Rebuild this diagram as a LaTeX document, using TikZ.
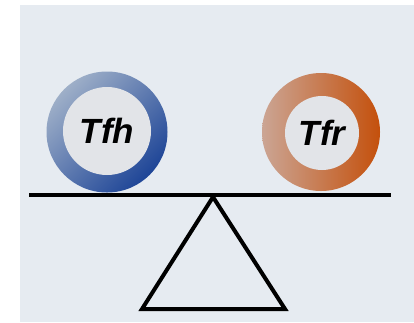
\documentclass[tikz,border=0pt]{standalone}
\usepackage{fontspec}
\setmainfont{Liberation Sans}
\begin{document}
\begin{tikzpicture}[x=1pt,y=-1pt,
  ring/.style={circle, inner sep=0pt, draw=none},
  core/.style={circle, inner sep=0pt, fill=innergrey, font=\fontsize{35}{35}\selectfont\bfseries\itshape},
  bar/.style={line width=3.6pt, black}]
\definecolor{panel}{HTML}{E6EBF1}
\definecolor{innergrey}{HTML}{E2E4E8}
\definecolor{blueL}{HTML}{9EAFC8}
\definecolor{blueD}{HTML}{1E4597}
\definecolor{orL}{HTML}{CBA594}
\definecolor{orD}{HTML}{C4500C}
\useasboundingbox (0,0) rectangle (414,322);
\fill[white] (0,0) rectangle (414,322);
\fill[panel] (20,5) rectangle (414,322);
% rings
\node[ring, minimum size=121pt, shading=axis, left color=blueL, right color=blueD, shading angle=45] (tfhring) at (107,132) {};
\node[core, minimum size=88pt] (tfh) at (107,131) {Tfh};
\node[ring, minimum size=118pt, shading=axis, left color=orL, right color=orD, shading angle=90] (tfrring) at (321,132) {};
\node[core, minimum size=74pt] (tfr) at (322,133) {Tfr};
% beam and fulcrum
\coordinate (bl) at (29,195);
\coordinate (br) at (391,195);
\coordinate (apex) at (213,197);
\coordinate (tl) at (142,309);
\coordinate (tr) at (285,309);
\draw[bar] (bl) -- (br);
\draw[bar, line width=4pt, line join=miter] (apex) -- (tr) -- (tl) -- cycle;
\end{tikzpicture}
\end{document}
